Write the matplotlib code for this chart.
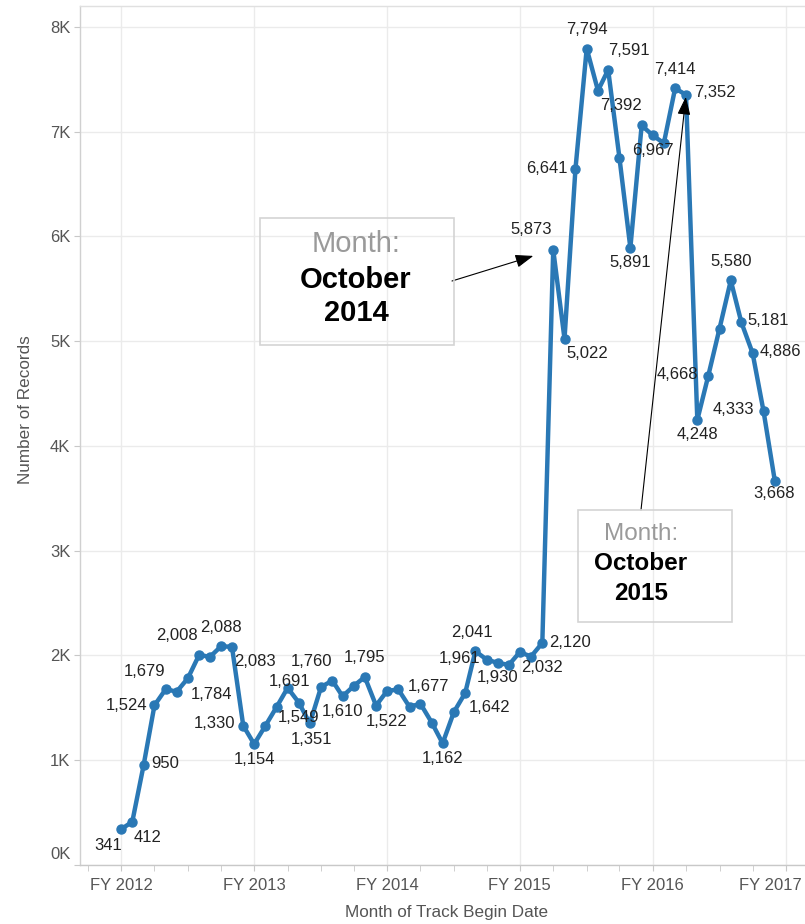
import matplotlib
matplotlib.use("Agg")
import matplotlib.pyplot as plt
import matplotlib.dates as mdates
from matplotlib.patches import Rectangle
from matplotlib.transforms import ScaledTranslation
import pandas as pd
import datetime as dt

plt.rcParams['font.family'] = ['Liberation Sans', 'DejaVu Sans']

# ---------------- data ----------------
start_month = "2011-07-01"
records = [341, 412, 950, 1524, 1679, 1654, 1784, 2008, 1985, 2088, 2083, 1330,
           1154, 1330, 1510, 1691, 1549, 1351, 1700, 1760, 1610, 1710, 1795, 1522,
           1660, 1677, 1510, 1540, 1360, 1162, 1460, 1642, 2041, 1961, 1930, 1910,
           2032, 1990, 2120, 5873, 5022, 6641, 7794, 7392, 7591, 6750, 5891, 7060,
           6967, 6890, 7414, 7352, 4248, 4668, 5120, 5580, 5181, 4886, 4333, 3668]
months = pd.date_range(start_month, periods=len(records), freq="MS")

fy_ticks = ["2011-07-01", "2012-07-01", "2013-07-01", "2014-07-01", "2015-07-01", "2016-07-01"]
fy_labels = ["FY 2012", "FY 2013", "FY 2014", "FY 2015", "FY 2016", "FY 2017"]
y_ticks = [0, 1000, 2000, 3000, 4000, 5000, 6000, 7000, 8000]
y_labels = ["0K", "1K", "2K", "3K", "4K", "5K", "6K", "7K", "8K"]

# label placement (pixel offsets from the point) by month index
U, D = (0, -19), (0, 15)
label_pos = {0: (-13, 16), 1: (15, 16), 2: (22, -2), 3: (-28, 0), 4: (-21, -18),
             6: (24, 16), 7: (-22, -19), 9: U, 10: (23, 15), 11: (-29, -2),
             12: D, 15: (2, -6), 16: D, 17: (2, 16), 19: (-21, -19), 20: D,
             22: U, 23: (11, 16), 25: (30, -3), 29: D, 31: (24, 15), 32: (-3, -19),
             33: (-27, -1), 34: D, 36: (22, 15), 38: (28, 0), 39: (-22, -20),
             40: (23, 15), 41: (-29, -1), 42: U, 43: (23, 15), 44: (21, -19),
             46: D, 48: D, 50: U, 51: (29, -2), 52: D, 53: (-31, -1), 55: U,
             56: (27, -2), 57: (28, -2), 58: (-30, -2), 59: (-1, 13)}

# ---------------- figure ----------------
W, H = 805, 924
fig = plt.figure(figsize=(W / 100, H / 100), dpi=100)
ax = fig.add_axes([80 / W, (H - 865) / H, (805 - 80) / W, (865 - 6) / H])

line_color = "#2a78b5"
ax.plot(months, records, color=line_color, lw=3.2, marker="o", ms=6.5,
        solid_joinstyle="round", zorder=3)

for i, (dx, dy) in label_pos.items():
    ax.annotate(f"{records[i]:,}", xy=(months[i], records[i]),
                xytext=(dx, -dy), textcoords="offset pixels",
                ha="center", va="center", fontsize=12, color="#222222", zorder=4)

# axes
x0 = mdates.date2num(dt.datetime(2011, 7, 1))
ax.set_xlim(x0 - 112.7, x0 + 1880)
ax.set_ylim(0, 8200)

ax.set_xticks([mdates.date2num(pd.Timestamp(t)) for t in fy_ticks])
ax.set_xticklabels(fy_labels)
minor = pd.date_range("2011-04-01", "2016-07-01", freq="QS-JAN")
ax.set_xticks([mdates.date2num(t) for t in minor], minor=True)
ax.set_yticks(y_ticks)
ax.set_yticklabels(y_labels)

ax.tick_params(axis="x", which="both", length=4, color="#c8c8c8", pad=5,
               labelsize=12, labelcolor="#555555")
ax.tick_params(axis="y", length=4, color="#c8c8c8", pad=3,
               labelsize=12, labelcolor="#555555")

# shift 0K label up and last FY label left, as in the reference
zl = ax.get_yticklabels()[0]
zl.set_transform(zl.get_transform() + ScaledTranslation(0, 12 / 100, fig.dpi_scale_trans))
ll = ax.get_xticklabels()[-1]
ll.set_transform(ll.get_transform() + ScaledTranslation(-15 / 100, 0, fig.dpi_scale_trans))

ax.grid(True, which="major", color="#ebebeb", lw=1, zorder=0)
ax.spines["right"].set_visible(False)
ax.spines["top"].set_color("#e0e0e0")
ax.spines["left"].set_color("#d0d0d0")
ax.spines["bottom"].set_color("#c8c8c8")
for s in ["top", "left", "bottom"]:
    ax.spines[s].set_linewidth(1)

fig.text(25 / W, 1 - 410 / H, "Number of Records", rotation=90, ha="center",
         va="center", fontsize=12.3, color="#555555")
fig.text(447 / W, 1 - 912 / H, "Month of Track Begin Date", ha="center",
         va="center", fontsize=12.3, color="#555555")

# ---------------- annotations ----------------
def fp(x, y):
    return (x / W, 1 - y / H)

def box(x0p, y0p, x1p, y1p):
    fig.add_artist(Rectangle(fp(x0p, y1p), (x1p - x0p) / W, (y1p - y0p) / H,
                             transform=fig.transFigure, fill=False,
                             edgecolor="#d4d4d4", lw=1.2, zorder=5))

box(260, 218, 454, 345)
fig.text(*fp(356, 244), "Month:", ha="center", va="center", fontsize=21, color="#9a9a9a")
fig.text(*fp(356, 280), "October", ha="center", va="center", fontsize=21,
         fontweight="bold", color="#000000")
fig.text(*fp(356, 313), "2014", ha="center", va="center", fontsize=21,
         fontweight="bold", color="#000000")

box(578, 510, 732, 622)
fig.text(*fp(641, 534), "Month:", ha="center", va="center", fontsize=17.5, color="#9a9a9a")
fig.text(*fp(641, 563), "October", ha="center", va="center", fontsize=17.5,
         fontweight="bold", color="#000000")
fig.text(*fp(641, 593), "2015", ha="center", va="center", fontsize=17.5,
         fontweight="bold", color="#000000")

arrow = dict(arrowstyle="-|>,head_length=0.55,head_width=0.2", color="black",
             lw=0.8, mutation_scale=20, shrinkA=0)
i1 = 39
ax.annotate("", xy=(months[i1], records[i1]), xytext=(452, H - 281),
            textcoords="figure pixels",
            arrowprops=dict(arrow, shrinkB=15), zorder=6)
i2 = 51
ax.annotate("", xy=(months[i2], records[i2]), xytext=(641, H - 510),
            textcoords="figure pixels",
            arrowprops=dict(arrow, shrinkB=1.5), zorder=6)

fig.savefig("out.png", dpi=100)
